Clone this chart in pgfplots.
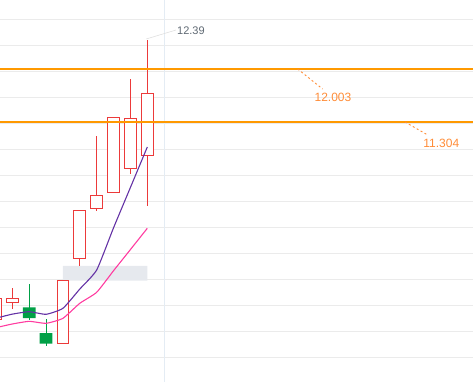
\documentclass[border=0pt]{standalone}
\usepackage{pgfplots}
\pgfplotsset{compat=1.18}
\usepackage{fontspec}
\setmainfont{Liberation Sans}
\definecolor{candred}{RGB}{236,58,58}
\definecolor{candgreen}{RGB}{0,160,70}
\definecolor{gridc}{RGB}{235,235,235}
\definecolor{vgridc}{RGB}{228,236,244}
\definecolor{orangeline}{RGB}{255,153,0}
\definecolor{orangetext}{RGB}{255,140,55}
\definecolor{maone}{RGB}{100,50,165}
\definecolor{matwo}{RGB}{255,60,160}
\definecolor{boxc}{RGB}{230,233,238}
\definecolor{labgray}{RGB}{95,105,115}
\begin{document}
\begin{tikzpicture}
\begin{axis}[
  scale only axis,
  width=473pt, height=382pt,
  xmin=0.271, xmax=28.30,
  ymin=7.875, ymax=12.913,
  axis line style={draw=none},
  major tick length=0pt,
  xtick=\empty,
  ytick={12.659,12.316,11.973,11.630,11.287,10.944,10.601,10.258,9.915,9.572,9.229,8.886,8.543,8.201},
  yticklabels={},
  ymajorgrids,
  major grid style={draw=gridc, line width=0.9pt},
  clip=true,
]
% vertical line
\addplot[vgridc, line width=1pt] coordinates {(10,7.875) (10,12.913)};
% gray box
\addplot[draw=none, fill=boxc] coordinates {(4,9.211) (9,9.211) (9,9.405) (4,9.405) (4,9.211)};
% candles: wicks
\addplot[candred, line width=1pt] coordinates {(1,8.838) (1,9.111)};
\addplot[candgreen, line width=1pt] coordinates {(2,8.693) (2,9.167)};
\addplot[candgreen, line width=1pt] coordinates {(3,8.354) (3,8.706)};
\addplot[candred, line width=1pt] coordinates {(5,9.409) (5,10.139)};
\addplot[candred, line width=1pt] coordinates {(6,10.134) (6,11.119)};
\addplot[candred, line width=1pt] coordinates {(8,10.622) (8,11.871)};
\addplot[candred, line width=1pt] coordinates {(9,10.200) (9,12.39)};
% bodies
\addplot[candred, fill=white, line width=1pt, line join=miter] coordinates {(-0.35,8.693) (0.35,8.693) (0.35,8.979) (-0.35,8.979) (-0.35,8.693) (0.35,8.693)};
\addplot[candred, fill=white, line width=1pt, line join=miter] coordinates {(0.65,8.926) (1.35,8.926) (1.35,8.970) (0.65,8.970) (0.65,8.926) (1.35,8.926)};
\addplot[draw=none, fill=candgreen] coordinates {(1.625,8.719) (2.375,8.719) (2.375,8.860) (1.625,8.860) (1.625,8.719)};
\addplot[draw=none, fill=candgreen] coordinates {(2.625,8.380) (3.375,8.380) (3.375,8.521) (2.625,8.521) (2.625,8.380)};
\addplot[candred, fill=white, line width=1pt, line join=miter] coordinates {(3.65,8.385) (4.35,8.385) (4.35,9.220) (3.65,9.220) (3.65,8.385) (4.35,8.385)};
\addplot[candred, fill=white, line width=1pt, line join=miter] coordinates {(4.65,9.506) (5.35,9.506) (5.35,10.139) (4.65,10.139) (4.65,9.506) (5.35,9.506)};
\addplot[candred, fill=white, line width=1pt, line join=miter] coordinates {(5.65,10.166) (6.35,10.166) (6.35,10.341) (5.65,10.341) (5.65,10.166) (6.35,10.166)};
\addplot[candred, fill=white, line width=1pt, line join=miter] coordinates {(6.65,10.377) (7.35,10.377) (7.35,11.366) (6.65,11.366) (6.65,10.377) (7.35,10.377)};
\addplot[candred, fill=white, line width=1pt, line join=miter] coordinates {(7.65,10.693) (8.35,10.693) (8.35,11.344) (7.65,11.344) (7.65,10.693) (8.35,10.693)};
\addplot[candred, fill=white, line width=1pt, line join=miter] coordinates {(8.65,10.865) (9.35,10.865) (9.35,11.683) (8.65,11.683) (8.65,10.865) (9.35,10.865)};
% moving averages
\addplot[matwo, line width=1.1pt, smooth, tension=0.3] coordinates {(0,8.590) (1,8.640) (2,8.675) (3,8.649) (4,8.715) (5,8.913) (6,9.058) (7,9.343) (8,9.622) (9,9.902)};
\addplot[maone, line width=1.1pt, smooth, tension=0.3] coordinates {(0,8.715) (1,8.770) (2,8.802) (3,8.768) (4,8.847) (5,9.101) (6,9.352) (7,9.909) (8,10.441) (9,10.974)};
% orange levels
\addplot[orangeline, line width=2.4pt] coordinates {(0,12.003) (29,12.003)};
\addplot[orangeline, line width=2.4pt] coordinates {(0,11.304) (29,11.304)};
% leaders
\addplot[gray!25, line width=0.6pt] coordinates {(8.94,12.399) (10.70,12.517)};
\addplot[orangetext, line width=0.9pt, dash pattern=on 2pt off 2.5pt] coordinates {(17.91,12.003) (19.39,11.739)};
\addplot[orangetext, line width=0.9pt, dash pattern=on 2pt off 2.5pt] coordinates {(24.27,11.304) (25.62,11.132)};
% labels
\node[anchor=west, inner sep=0pt, text=labgray, font=\fontsize{11}{13}\selectfont] at (axis cs:10.76,12.513) {12.39};
\node[anchor=center, inner sep=0pt, text=orangetext, font=\fontsize{12}{14}\selectfont] at (axis cs:20.0,11.630) {12.003};
\node[anchor=center, inner sep=0pt, text=orangetext, font=\fontsize{12}{14}\selectfont] at (axis cs:26.42,11.023) {11.304};
\end{axis}
\pgfresetboundingbox
\path[use as bounding box] (current axis.south west) rectangle (current axis.north east);
\end{tikzpicture}
\end{document}
